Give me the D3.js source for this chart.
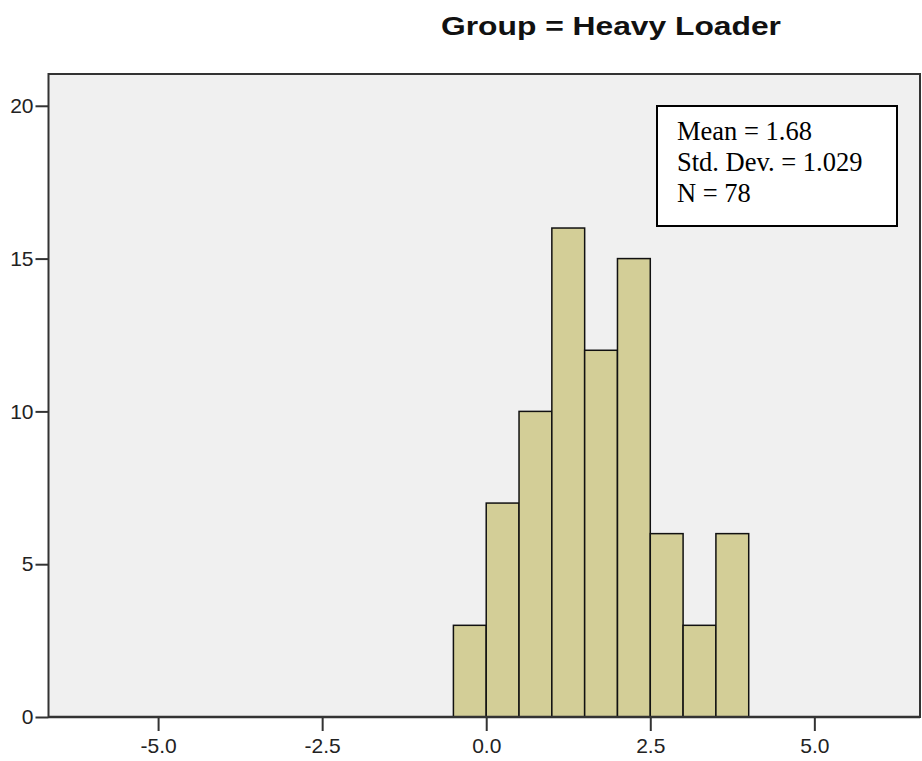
<!DOCTYPE html>
<html>
<head>
<meta charset="utf-8">
<script src="https://cdn.jsdelivr.net/npm/d3@7"></script>
<style>
  body { margin: 0; background: #fff; }
  .axis text { font-family: "Liberation Sans", Arial, sans-serif; font-size: 21px; fill: #222; }
  .axis line { stroke: #333; stroke-width: 2; }
</style>
</head>
<body>
<div id="chart"></div>
<script>
// histogram data
const title = "Group = Heavy Loader";
const binEdges = [-0.5, 0, 0.5, 1, 1.5, 2, 2.5, 3, 3.5, 4];
const counts = [3, 7, 10, 16, 12, 15, 6, 3, 6];
const statLines = ["Mean = 1.68", "Std. Dev. = 1.029", "N = 78"];
const xTicks = [-5, -2.5, 0, 2.5, 5];
const yTicks = [0, 5, 10, 15, 20];

const width = 922, height = 761;
const plot = { left: 48.5, right: 920, top: 74, bottom: 717 };

const svg = d3.select('#chart').append('svg')
  .attr('width', width)
  .attr('height', height);

const xScale = d3.scaleLinear().domain([-6.67, 6.61]).range([plot.left, plot.right]);
const yScale = d3.scaleLinear().domain([0, 21.04]).range([plot.bottom, plot.top]);

// plot background + frame
svg.append('rect')
  .attr('x', plot.left)
  .attr('y', plot.top)
  .attr('width', plot.right - plot.left)
  .attr('height', plot.bottom - plot.top)
  .attr('fill', '#f0f0f0')
  .attr('stroke', '#333')
  .attr('stroke-width', 2);

// bars
const bins = counts.map((c, i) => ({ x0: binEdges[i], x1: binEdges[i + 1], count: c }));
svg.append('g').selectAll('rect')
  .data(bins)
  .enter().append('rect')
    .attr('x', d => xScale(d.x0))
    .attr('y', d => yScale(d.count))
    .attr('width', d => xScale(d.x1) - xScale(d.x0))
    .attr('height', d => yScale(0) - yScale(d.count))
    .attr('fill', '#d3ce97')
    .attr('stroke', '#111')
    .attr('stroke-width', 1.5);

// axes
const xAxis = svg.append('g')
  .attr('class', 'axis axis-x')
  .attr('transform', `translate(0, ${plot.bottom})`)
  .call(d3.axisBottom(xScale).tickValues(xTicks).tickSize(14).tickPadding(7)
    .tickFormat(d => d.toFixed(1)));
xAxis.select('.domain').remove();

const yAxis = svg.append('g')
  .attr('class', 'axis axis-y')
  .attr('transform', `translate(${plot.left}, 0)`)
  .call(d3.axisLeft(yScale).tickValues(yTicks).tickSize(13).tickPadding(2));
yAxis.select('.domain').remove();

// redraw bottom edge on top of bars
svg.append('line')
  .attr('x1', plot.left).attr('x2', plot.right)
  .attr('y1', plot.bottom).attr('y2', plot.bottom)
  .attr('stroke', '#333').attr('stroke-width', 2.5);

// title (SPSS renders it a bit stretched)
svg.append('text')
  .attr('x', 611)
  .attr('y', 35)
  .attr('text-anchor', 'middle')
  .attr('textLength', 340)
  .attr('lengthAdjust', 'spacingAndGlyphs')
  .style('font', 'bold 26px "Liberation Sans", Arial, sans-serif')
  .style('fill', '#111')
  .text(title);

// stats box
const box = svg.append('g').attr('transform', 'translate(657, 106)');
box.append('rect')
  .attr('width', 240)
  .attr('height', 120)
  .attr('fill', '#fff')
  .attr('stroke', '#000')
  .attr('stroke-width', 2);
box.selectAll('text')
  .data(statLines)
  .enter().append('text')
    .attr('x', 20)
    .attr('y', (d, i) => 34 + i * 31)
    .style('font', '26.5px "Liberation Serif", "Times New Roman", serif')
    .style('fill', '#000')
    .text(d => d);
</script>
</body>
</html>
